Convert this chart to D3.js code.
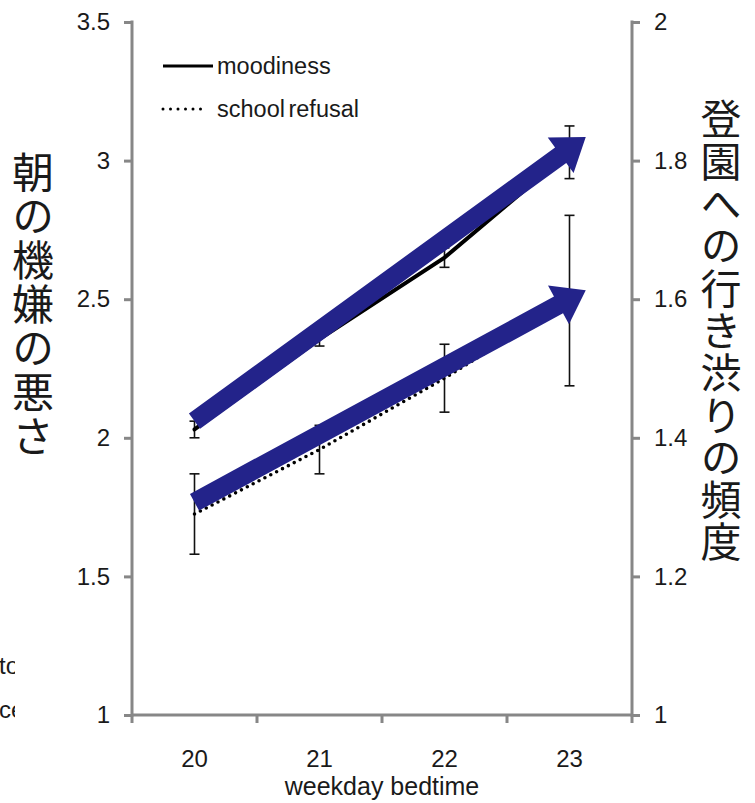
<!DOCTYPE html>
<html>
<head>
<meta charset="utf-8">
<script src="https://cdnjs.cloudflare.com/ajax/libs/d3/7.8.5/d3.min.js"></script>
<style>
    body { margin: 0; background: #fff; }
    #chart-area { width: 755px; height: 803px; }
    text { font-family: "Liberation Sans", Arial, sans-serif; fill: #1a1a1a; }
    .jp-label { font-family: "Noto Sans CJK JP", sans-serif; }
    .axis path, .axis line { stroke: #878787; stroke-width: 3; }
</style>
</head>
<body>
<div id="chart-area"></div>
<script>
// data
const bedtimes = ["20", "21", "22", "23"];
const moodiness = [2.03, 2.356, 2.65, 3.03];
const moodinessErr = [0.03, 0.025, 0.035, 0.095];
const refusal = [1.29, 1.383, 1.486, 1.598];
const refusalErr = [0.058, 0.035, 0.049, 0.123];
const leftTicks = [1, 1.5, 2, 2.5, 3, 3.5];
const rightTicks = [1, 1.2, 1.4, 1.6, 1.8, 2];
const legendNames = ["moodiness", "school refusal"];

// the two trend arrows, in data units (bedtime, value on its own axis)
const arrowStarts = [[20, 2.06], [20, 1.307]];
const arrowEnds = [[23.13, 3.085], [23.13, 1.613]];
const arrowAxes = ["left", "right"];

class BedtimeChart {

    constructor(parentElement) {
        this.parentElement = parentElement;
        this.initVis();
    }

    initVis() {
        let vis = this;

        vis.margin = {top: 22, right: 123, bottom: 88, left: 132};
        vis.width = 755 - vis.margin.left - vis.margin.right;
        vis.height = 803 - vis.margin.top - vis.margin.bottom;

        vis.svg = d3.select("#" + vis.parentElement).append("svg")
            .attr("width", 755)
            .attr("height", 803)
            .append("g")
            .attr("transform", `translate(${vis.margin.left}, ${vis.margin.top})`);

        // scales
        vis.x = d3.scaleBand()
            .domain(bedtimes)
            .range([0, vis.width]);
        let half = vis.x.bandwidth() / 2;
        vis.xNum = d3.scaleLinear()
            .domain([20, 23])
            .range([vis.x("20") + half, vis.x("23") + half]);
        vis.yLeft = d3.scaleLinear()
            .domain([1, 3.5])
            .range([vis.height, 0]);
        vis.yRight = d3.scaleLinear()
            .domain([1, 2])
            .range([vis.height, 0]);

        // axes
        vis.svg.append("g")
            .attr("class", "axis")
            .call(d3.axisLeft(vis.yLeft).tickValues(leftTicks).tickSize(8).tickPadding(14)
                .tickSizeOuter(0).tickFormat(d3.format("")))
            .call(g => g.select(".domain").attr("d", `M0,${vis.height + 1.5}V-1.5`));
        vis.svg.append("g")
            .attr("class", "axis")
            .attr("transform", `translate(${vis.width}, 0)`)
            .call(d3.axisRight(vis.yRight).tickValues(rightTicks).tickSize(8).tickPadding(14)
                .tickSizeOuter(0).tickFormat(d3.format("")))
            .call(g => g.select(".domain").attr("d", `M0,${vis.height + 1.5}V-1.5`));
        let xAxis = vis.svg.append("g")
            .attr("class", "axis")
            .attr("transform", `translate(0, ${vis.height})`)
            .call(d3.axisBottom(vis.x).tickSize(0).tickPadding(35).tickSizeOuter(0))
            .call(g => g.select(".domain").attr("d", `M0,0H${vis.width}`));
        // band boundary ticks
        xAxis.selectAll(".sep")
            .data(d3.range(bedtimes.length + 1))
            .enter().append("line")
            .attr("class", "sep")
            .attr("x1", i => i * vis.x.step())
            .attr("x2", i => i * vis.x.step())
            .attr("y1", 0)
            .attr("y2", 8);

        vis.svg.selectAll(".axis text")
            .attr("font-size", 24)
            .attr("font-family", "Liberation Sans, Arial, sans-serif")
            .attr("fill", "#1a1a1a");

        // axis titles
        vis.svg.append("text")
            .attr("x", vis.width / 2)
            .attr("y", vis.height + 80)
            .attr("text-anchor", "middle")
            .attr("font-size", 25)
            .text("weekday bedtime");

        vis.svg.append("text")
            .attr("class", "jp-label")
            .attr("x", 33 - vis.margin.left)
            .attr("y", 305 - vis.margin.top)
            .attr("text-anchor", "middle")
            .attr("font-size", 42)
            .style("writing-mode", "vertical-rl")
            .style("text-orientation", "upright")
            .style("letter-spacing", "2px")
            .text("朝の機嫌の悪さ");

        vis.svg.append("text")
            .attr("class", "jp-label")
            .attr("x", vis.width + 89)
            .attr("y", 331 - vis.margin.top)
            .attr("text-anchor", "middle")
            .attr("font-size", 41)
            .style("writing-mode", "vertical-rl")
            .style("text-orientation", "upright")
            .style("letter-spacing", "1.3px")
            .text("登園への行き渋りの頻度");

        // clipped text fragments at the left edge
        vis.svg.append("clipPath")
            .attr("id", "edge-clip")
            .append("rect")
            .attr("x", -vis.margin.left)
            .attr("y", 600)
            .attr("width", 15)
            .attr("height", 120);
        vis.svg.append("g")
            .attr("clip-path", "url(#edge-clip)")
            .selectAll("text")
            .data(["to", "ce"])
            .enter().append("text")
            .attr("x", -vis.margin.left - 1)
            .attr("y", (d, i) => 652 + i * 44)
            .attr("font-size", 24)
            .text(d => d);

        vis.updateVis();
    }

    updateVis() {
        let vis = this;
        let half = vis.x.bandwidth() / 2;
        let cx = d => vis.x(d) + half;

        let series = [
            {values: moodiness, err: moodinessErr, y: vis.yLeft, dash: null},
            {values: refusal, err: refusalErr, y: vis.yRight, dash: "0 6.6"}
        ];

        // error bars
        series.forEach(s => {
            let g = vis.svg.append("g")
                .attr("stroke", "#111")
                .attr("stroke-width", 1.6);
            bedtimes.forEach((b, i) => {
                let top = s.y(s.values[i] + s.err[i]);
                let bot = s.y(s.values[i] - s.err[i]);
                g.append("line").attr("x1", cx(b)).attr("x2", cx(b)).attr("y1", top).attr("y2", bot);
                g.append("line").attr("x1", cx(b) - 5).attr("x2", cx(b) + 5).attr("y1", top).attr("y2", top);
                g.append("line").attr("x1", cx(b) - 5).attr("x2", cx(b) + 5).attr("y1", bot).attr("y2", bot);
            });
        });

        // lines
        series.forEach(s => {
            vis.svg.append("path")
                .datum(bedtimes.map((b, i) => [b, s.values[i]]))
                .attr("fill", "none")
                .attr("stroke", "#000")
                .attr("stroke-width", s.dash ? 3.6 : 4)
                .attr("stroke-linecap", "round")
                .attr("stroke-dasharray", s.dash)
                .attr("d", d3.line().x(d => cx(d[0])).y(d => s.y(d[1])));
        });

        // trend arrows
        let shaft = 19, headLen = 31, headHalf = 22;
        arrowStarts.forEach((st, i) => {
            let yS = arrowAxes[i] === "left" ? vis.yLeft : vis.yRight;
            let x0 = vis.xNum(st[0]), y0 = yS(st[1]);
            let x1 = vis.xNum(arrowEnds[i][0]), y1 = yS(arrowEnds[i][1]);
            let len = Math.hypot(x1 - x0, y1 - y0);
            let ux = (x1 - x0) / len, uy = (y1 - y0) / len;
            let px = -uy, py = ux;
            let bx = x1 - ux * headLen, by = y1 - uy * headLen;
            let pts = [
                [x0 + px * shaft / 2, y0 + py * shaft / 2],
                [bx + px * shaft / 2, by + py * shaft / 2],
                [bx + px * headHalf, by + py * headHalf],
                [x1, y1],
                [bx - px * headHalf, by - py * headHalf],
                [bx - px * shaft / 2, by - py * shaft / 2],
                [x0 - px * shaft / 2, y0 - py * shaft / 2]
            ];
            vis.svg.append("path")
                .attr("d", d3.line()(pts) + "Z")
                .attr("fill", "#23238a");
        });

        // legend
        let legend = vis.svg.append("g")
            .attr("transform", `translate(${163 - vis.margin.left}, ${66 - vis.margin.top})`);
        legendNames.forEach((name, i) => {
            legend.append("line")
                .attr("x1", 0).attr("x2", i === 0 ? 50 : 38)
                .attr("y1", i * 43).attr("y2", i * 43)
                .attr("stroke", "#000")
                .attr("stroke-width", 3)
                .attr("stroke-linecap", i === 0 ? "butt" : "round")
                .attr("stroke-dasharray", i === 0 ? null : "0 7.5");
            legend.append("text")
                .attr("x", 54)
                .attr("y", i * 43 + 8)
                .attr("font-size", 23.5)
                .style("word-spacing", "-3px")
                .text(name);
        });
    }
}

let chart = new BedtimeChart("chart-area");
</script>
</body>
</html>
